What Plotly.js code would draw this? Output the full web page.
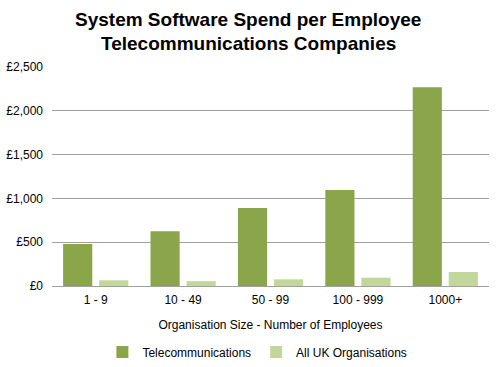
<!DOCTYPE html>
<html>
<head>
<meta charset="utf-8">
<script src="https://cdn.plot.ly/plotly-3.0.1.min.js"></script>
<style>html,body{margin:0;padding:0;background:#fff;}#chart{width:500px;height:367px;}</style>
</head>
<body>
<div id="chart"></div>
<script>
const categories = ["1 - 9", "10 - 49", "50 - 99", "100 - 999", "1000+"];
const telecom = [480, 625, 890, 1095, 2268];
const allUK = [65, 55, 76, 95, 160];
const yTickVals = [0, 500, 1000, 1500, 2000, 2500];
const yTickText = ["£0", "£500", "£1,000", "£1,500", "£2,000", "£2,500"];
const titleLines = ["System Software Spend per Employee", "Telecommunications Companies"];

const data = [
  {type: "bar", name: "Telecommunications", x: categories, y: telecom,
   marker: {color: "#8BA64A", line: {width: 0}}},
  {type: "bar", name: "All UK Organisations", x: categories, y: allUK,
   marker: {color: "#C3D69B", line: {width: 0}}}
];
const plotH = 219, plotB = 286;
const layout = {
  width: 500, height: 367,
  margin: {l: 52, r: 11, t: 67, b: 81, autoexpand: false},
  paper_bgcolor: "#fff", plot_bgcolor: "#fff",
  font: {family: "Liberation Sans, Arial, sans-serif", size: 12, color: "#000"},
  annotations: titleLines.map((t, i) => ({
    text: "<b>" + t + "</b>", showarrow: false,
    xref: "paper", x: (248 - 52) / 437, xanchor: "center",
    yref: "paper", y: (plotB - (19 + 24 * i)) / plotH, yanchor: "middle",
    font: {size: 19, color: "#000"}
  })),
  barmode: "group", bargap: 0.176, bargroupgap: 0.19,
  xaxis: {showgrid: false, showline: true, linecolor: "#A0A0A0", linewidth: 1,
    ticks: "", tickfont: {size: 12}, ticklabelstandoff: 3,
    title: {text: "Organisation Size - Number of Employees", font: {size: 12}, standoff: 14}},
  yaxis: {range: [0, 2500], tickvals: yTickVals, ticktext: yTickText,
    showgrid: true, gridcolor: "#A0A0A0", gridwidth: 1, zeroline: true, zerolinecolor: "#A0A0A0",
    showline: false, ticks: "", tickfont: {size: 12}, ticklabelstandoff: 8},
  legend: {orientation: "h", x: 0.47, xanchor: "center", xref: "paper",
    yref: "container", y: 15 / 367, yanchor: "middle",
    font: {size: 12}, itemwidth: 30, tracegroupgap: 0},
  showlegend: true
};
Plotly.newPlot("chart", data, layout, {displayModeBar: false, staticPlot: true});
</script>
</body>
</html>
